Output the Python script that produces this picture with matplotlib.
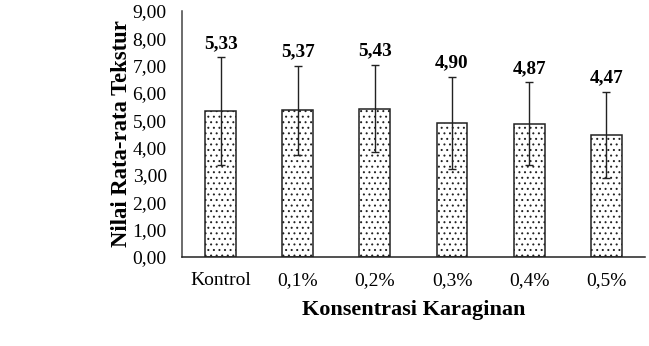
import numpy as np
import matplotlib.pyplot as plt

plt.rcParams['font.family'] = ['Liberation Serif', 'DejaVu Serif']
plt.rcParams['hatch.color'] = '#444444'
plt.rcParams['hatch.linewidth'] = 0.7

categories = ["Kontrol", "0,1%", "0,2%", "0,3%", "0,4%", "0,5%"]
means = [5.33, 5.37, 5.43, 4.90, 4.87, 4.47]
errors = [1.97, 1.63, 1.60, 1.68, 1.52, 1.58]
yticks = [0, 1, 2, 3, 4, 5, 6, 7, 8, 9]

fig = plt.figure(figsize=(6.49, 3.46), dpi=100)
ax = fig.add_axes([0.2804, 0.2572, 0.7134, 0.711])

x = np.arange(len(categories))
ax.bar(x, means, width=0.4, color="white", edgecolor="#222222", linewidth=1.1,
       hatch="...", yerr=errors, error_kw=dict(ecolor="#222222", elinewidth=1.0, capsize=3, capthick=1.0))

for xi, m, e in zip(x, means, errors):
    ax.text(xi, m + e + 0.2, "{:.2f}".format(m).replace(".", ","), ha="center", va="bottom",
            fontsize=13.8, fontweight="bold")

ax.set_xlim(-0.5, len(categories) - 0.5)
ax.set_ylim(0, 9)
ax.set_yticks(yticks)
ax.set_yticklabels(["{:.2f}".format(v).replace(".", ",") for v in yticks], fontsize=14)
ax.set_xticks(x)
ax.set_xticklabels(categories, fontsize=14)
ax.tick_params(axis="y", length=0, pad=11)
ax.tick_params(axis="x", length=0, pad=11)

ax.spines["top"].set_visible(False)
ax.spines["right"].set_visible(False)
ax.spines["left"].set_color("#444444")
ax.spines["left"].set_linewidth(1.1)
ax.spines["bottom"].set_color("#222222")
ax.spines["bottom"].set_linewidth(1.1)

ax.set_ylabel("Nilai Rata-rata Tekstur", fontsize=16.3, fontweight="bold", labelpad=0)
ax.set_xlabel("Konsentrasi Karaginan", fontsize=16, fontweight="bold", labelpad=8)

plt.savefig("out.png", dpi=100)
plt.close()
